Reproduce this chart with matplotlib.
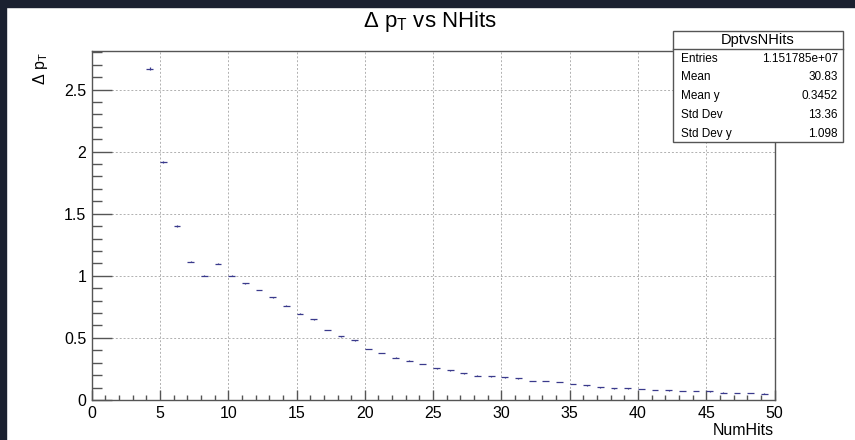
import numpy as np
import matplotlib.pyplot as plt
from matplotlib.patches import Rectangle

plt.rcParams['font.family'] = ['Liberation Sans', 'DejaVu Sans']
plt.rcParams['mathtext.fontset'] = 'custom'
plt.rcParams['mathtext.rm'] = 'Liberation Sans'

# profile bins (NumHits), bin width 0.5 -> points sit at n + 0.25
nhits = np.arange(4, 50)
dpt = [2.667, 1.916, 1.399, 1.114, 1.000, 1.097, 1.000, 0.942, 0.886, 0.827,
       0.758, 0.694, 0.651, 0.565, 0.513, 0.481, 0.411, 0.379, 0.341, 0.317,
       0.290, 0.255, 0.239, 0.215, 0.196, 0.191, 0.183, 0.175, 0.153, 0.153,
       0.143, 0.129, 0.118, 0.102, 0.094, 0.094, 0.088, 0.082, 0.078, 0.072,
       0.071, 0.070, 0.060, 0.055, 0.055, 0.051]
dpt_err = [0.012, 0.009, 0.007, 0.005, 0.005, 0.005, 0.004, 0.004, 0.003, 0.003,
           0.003, 0.003, 0.003, 0.002, 0.002, 0.002, 0.002, 0.002, 0.002, 0.002,
           0.002, 0.002, 0.002, 0.002, 0.002, 0.002, 0.002, 0.002, 0.002, 0.002,
           0.002, 0.002, 0.002, 0.002, 0.002, 0.002, 0.002, 0.002, 0.002, 0.002,
           0.002, 0.002, 0.002, 0.002, 0.002, 0.002]

stat_names = ['Entries', 'Mean', 'Mean y', 'Std Dev', 'Std Dev y']
stat_vals = ['1.151785e+07', '30.83', '0.3452', '13.36', '1.098']

W, H = 855, 440
fig = plt.figure(figsize=(W / 100, H / 100), dpi=100)
fig.patch.set_facecolor('white')

# dark strips at top and left edge
fig.patches.append(Rectangle((0, 1 - 7 / H), 1, 7 / H, transform=fig.transFigure,
                             color='#1b2130', zorder=0))
fig.patches.append(Rectangle((0, 0), 6 / W, 1, transform=fig.transFigure,
                             color='#1b2130', zorder=0))

x0, x1, y0, y1 = 91.7, 774.5, 51, 400
ax = fig.add_axes([x0 / W, 1 - y1 / H, (x1 - x0) / W, (y1 - y0) / H])

x = nhits + 0.25
ax.errorbar(x, dpt, xerr=0.25, yerr=dpt_err, fmt='none', ecolor='#3a3a8c',
            elinewidth=0.9, capsize=0)

ax.set_xlim(0, 50)
ax.set_ylim(0, 2.81)
ax.set_xticks(np.arange(0, 51, 5))
ax.set_xticks(np.arange(0, 51, 1), minor=True)
ax.set_yticks([0, 0.5, 1, 1.5, 2, 2.5])
ax.set_yticklabels(['0', '0.5', '1', '1.5', '2', '2.5'])
ax.set_yticks(np.arange(0, 2.81, 0.1), minor=True)

ax.grid(True, which='major', color='#b0b0b0', linestyle=(0, (2, 2)), linewidth=0.7)
ax.tick_params(axis='both', which='both', direction='in', colors='#555555',
               labelcolor='black', labelsize=11.5, width=1)
ax.tick_params(axis='y', which='major', length=14.5, pad=4)
ax.tick_params(axis='y', which='minor', length=7.2)
ax.tick_params(axis='x', which='major', length=7.2, pad=4)
ax.tick_params(axis='x', which='minor', length=3.6)
for s in ax.spines.values():
    s.set_color('#555555')
    s.set_linewidth(1)

fig.text(430 / W, 1 - 22 / H, r'Δ p$_\mathregular{T}$ vs NHits', ha='center',
         va='center', fontsize=16)
fig.text(774 / W, 1 - 430 / H, 'NumHits', ha='right', va='center', fontsize=11.5)
fig.text(40 / W, 1 - 52 / H, r'Δ p$_\mathregular{T}$', ha='center', va='top',
         rotation=90, fontsize=11.5)

# stats box
bx0, bx1, by0, by1 = 673, 843, 31, 142
fig.patches.append(Rectangle((bx0 / W, 1 - by1 / H), (bx1 - bx0) / W, (by1 - by0) / H,
                             transform=fig.transFigure, facecolor='white',
                             edgecolor='#555555', linewidth=1, zorder=5))
fig.add_artist(plt.Line2D([bx0 / W, bx1 / W], [1 - 49 / H, 1 - 49 / H],
                          transform=fig.transFigure, color='#555555', lw=1, zorder=6))
fig.text((bx0 + bx1) / 2 / W, 1 - 40 / H, 'DptvsNHits', ha='center', va='center',
         fontsize=10.5, zorder=7)
for i, (n, v) in enumerate(zip(stat_names, stat_vals)):
    yy = 1 - (58.5 + i * 18.8) / H
    fig.text(681 / W, yy, n, ha='left', va='center', fontsize=8.5, zorder=7)
    fig.text(838 / W, yy, v, ha='right', va='center', fontsize=8.5, zorder=7)

fig.savefig('out.png', dpi=100)
